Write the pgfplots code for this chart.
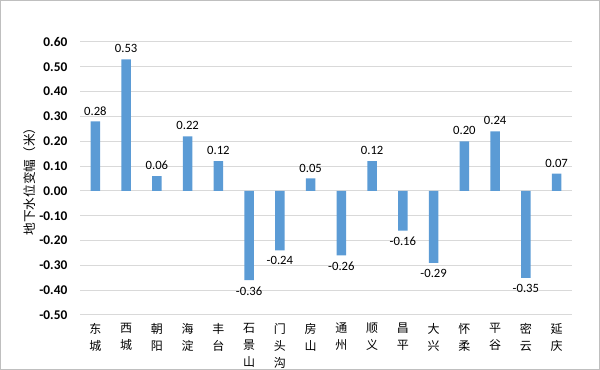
\documentclass[border=0pt]{standalone}
\usepackage{pgfplots}
\pgfplotsset{compat=1.18}
\usepackage{fontspec}
\setmainfont{Carlito}
\newfontfamily\cjk{Noto Sans CJK SC}
\definecolor{barblue}{HTML}{5B9BD5}
\definecolor{gridgray}{HTML}{D9D9D9}
\begin{document}
\begin{tikzpicture}[x=1pt,y=1pt]
\path[use as bounding box] (0,0) rectangle (450,277.5);
\draw[black!25, line width=0.75pt] (0.4,0.4) rectangle (449.6,277.1);
\begin{axis}[
  at={(60pt,41.25pt)}, anchor=south west, scale only axis,
  width=369pt, height=204.75pt,
  ymin=-0.5, ymax=0.6, xmin=-0.5, xmax=15.5,
  ytick={-0.5,-0.4,-0.3,-0.2,-0.1,0,0.1,0.2,0.3,0.4,0.5,0.6},
  yticklabel style={/pgf/number format/fixed, /pgf/number format/fixed zerofill, /pgf/number format/precision=2, /pgf/number format/assume math mode=true},
  yticklabel style={font=\bfseries\fontsize{10}{12}\selectfont, xshift=-6pt},
  ymajorgrids, grid style={gridgray, line width=0.75pt},
  axis line style={draw=none}, major tick length=0pt,
  xtick={0,...,15},
  xticklabels={{东\\城},{西\\城},{朝\\阳},{海\\淀},{丰\\台},{石\\景\\山},{门\\头\\沟},{房\\山},{通\\州},{顺\\义},{昌\\平},{大\\兴},{怀\\柔},{平\\谷},{密\\云},{延\\庆}},
  xticklabel style={align=center, font=\cjk\fontsize{9}{12.75}\selectfont, yshift=-2.5pt},
  ylabel={\cjk 地下水位变幅（米）},
  every axis y label/.style={at={(axis description cs:0,0.5)}, xshift=-37.5pt, rotate=90, anchor=center, font=\fontsize{9.5}{11}\selectfont},
  ybar, bar width=7.2pt,
  nodes near coords={\pgfmathprintnumber[fixed,fixed zerofill,precision=2,assume math mode=true]{\pgfplotspointmeta}},
  nodes near coords align={vertical},
  every node near coord/.append style={font=\fontsize{9.5}{11}\selectfont, black, inner sep=4.5pt},
  clip=false,
]
\addplot[fill=barblue, draw=none] coordinates {
(0,0.28) (1,0.53) (2,0.06) (3,0.22) (4,0.12) (5,-0.36) (6,-0.24) (7,0.05)
(8,-0.26) (9,0.12) (10,-0.16) (11,-0.29) (12,0.20) (13,0.24) (14,-0.35) (15,0.07)
};
\end{axis}
\end{tikzpicture}
\end{document}
